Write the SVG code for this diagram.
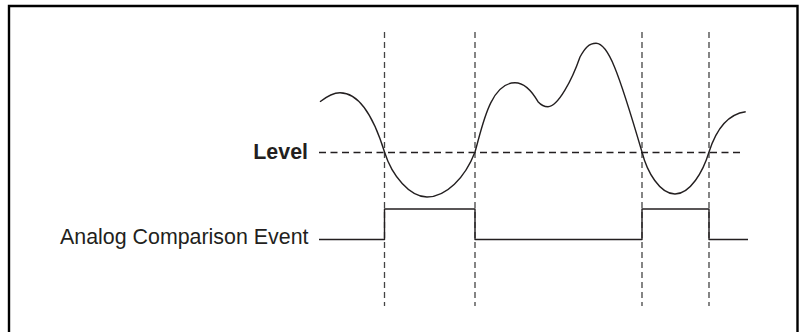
<svg xmlns="http://www.w3.org/2000/svg" width="800" height="332" viewBox="0 0 800 332">
  <style>
    .frame { fill: none; stroke: #000; stroke-width: 2.4; }
    .vdash { fill: none; stroke: #444; stroke-width: 1.3; stroke-dasharray: 6 4; }
    .hdash { fill: none; stroke: #231f20; stroke-width: 1.3; stroke-dasharray: 7 4.5; }
    .wave { fill: none; stroke: #231f20; stroke-width: 1.4; stroke-linejoin: round; }
    .lbl { font-family: "Liberation Sans", Arial, Helvetica, sans-serif; font-size: 21.4px; fill: #231f20; }
  </style>
  <rect width="800" height="332" fill="#fff"/>
  <path class="frame" d="M9,334 V6 H797.5 V334"/>
  <g id="connectors">
    <line class="vdash" x1="384.5" y1="32" x2="384.5" y2="306"/>
    <line class="vdash" x1="475" y1="32" x2="475" y2="306"/>
    <line class="vdash" x1="642" y1="32" x2="642" y2="306"/>
    <line class="vdash" x1="709" y1="32" x2="709" y2="306"/>
    <line class="hdash" x1="319" y1="152.5" x2="742" y2="152.5"/>
  </g>
  <g id="analog-signal">
    <path class="wave" d="M320,101.7 C326,97 332,92.7 340,92.7 C360,92.7 374,118 384.5,152 C392,176 410,197 427,197 C446,197 465,178 475,152 C482,128 490,82.7 515,82.7 C526,82.7 533,93 538,101.7 C541,105 544,106.7 548,106.7 C558,106.7 572,80 580,57 C585,48 589,43.3 596,43.3 C608,43.3 618,70 642,152 C647,172 660,194 675,194 C690,194 703,172 709,152 C716,130 728,114 745.7,111.7"/>
  </g>
  <g id="event-signal">
    <path class="wave" d="M319,239.5 H384.5 V209 H475 V239.5 H642 V209 H709 V239.5 H748"/>
  </g>
  <g id="level-label">
    <text class="lbl" x="308" y="158.5" text-anchor="end" font-weight="bold">Level</text>
  </g>
  <g id="event-label">
    <text class="lbl" x="308.5" y="243.5" text-anchor="end">Analog Comparison Event</text>
  </g>
</svg>
